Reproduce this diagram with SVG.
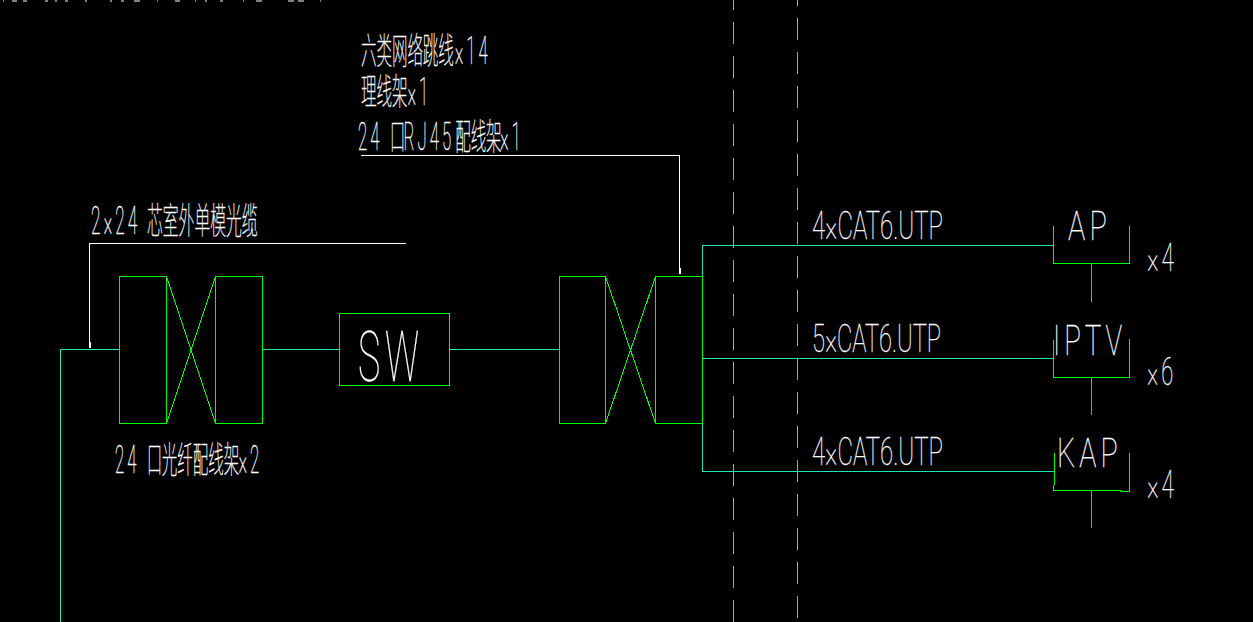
<svg xmlns="http://www.w3.org/2000/svg" width="1253" height="622" viewBox="0 0 1253 622">
<style>
.g{fill:none;stroke:#00ff00;stroke-width:1}
.t{fill:none;stroke:#1be8b6;stroke-width:1}
.w{fill:none;stroke:#fff;stroke-width:1}
.d{fill:none;stroke:#a6a6a6;stroke-width:1;stroke-dasharray:22 12}
text{fill:#fff;stroke:#fff;stroke-width:.3;font-family:Roboto,"Noto Sans CJK SC",sans-serif;font-weight:100;font-size:38px}
.c{font-size:36px;stroke-width:.45}
.n{font-size:39px;letter-spacing:7px}
.m{letter-spacing:5px}
</style>
<rect width="1253" height="622" fill="#000"/>
<path class="w" d="M3 1h1M12 1h5M23 1h4M45 1h3M55 1h2M65 1h3M85 1h2M110 1h2M121 1h3M134 1h6M157 1h1M175 1h5M195 1h1M205 1h2M220 1h3M243 1h1M256 1h6M288 1h6M298 1h6M320 1h1"/>
<g id="guides" shape-rendering="crispEdges">
<path class="d" d="M733.5 -12.3V622"/>
<path class="d" d="M797.5 -15.7V622"/>
</g>
<g id="connectors" shape-rendering="crispEdges">
<path class="t" d="M60.5 622V349.5H119.5M262.5 349.5H339.5M449.5 349.5H559.5"/>
<path class="t" d="M702.5 276V245.5H1053.5M702.5 423V471.5H1054.5"/>
<path class="t" d="M702.5 358.5H1053.5"/>
<path class="w" d="M406 243.5H89.5V346M361 155.5H679.5V273"/>
<path d="M88.5 342h2v6h-1.500zM678.500 268h2v6h-1z" fill="#fff"/>
</g>
<g id="odf-left" shape-rendering="crispEdges">
<rect class="g" x="119.500" y="276.500" width="47" height="147"/>
<rect class="g" x="215.500" y="276.500" width="47" height="147"/>
<path class="g" d="M166.500 276.500L215.500 423.500M166.500 423.500L215.500 276.500"/>
</g>
<text id="odf-label" class="c" transform="translate(115,473) scale(.43,1)"><tspan class="n">24</tspan><tspan x="74">口</tspan><tspan x="109">光纤配线架</tspan><tspan x="287" class="n">×2</tspan></text>
<g id="sw">
<rect class="g" x="339.500" y="313.500" width="110" height="72" shape-rendering="crispEdges"/>
<text x="358" y="381" style="font-size:70px;letter-spacing:9px" textLength="66" lengthAdjust="spacingAndGlyphs">SW</text>
</g>
<g id="patch-right" shape-rendering="crispEdges">
<rect class="g" x="559.500" y="276.500" width="46" height="147"/>
<rect class="g" x="655.500" y="276.500" width="47" height="147"/>
<path class="g" d="M605.500 276.500L655.500 423.500M605.500 423.500L655.500 276.500"/>
</g>
<g id="labels">
<text class="c" transform="translate(91,234) scale(.44,1)"><tspan class="n">2×24</tspan><tspan x="127">芯室外单模光缆</tspan></text>
<text class="c" transform="translate(361,64) scale(.43,1)">六类网络跳线<tspan x="218" class="n">×14</tspan></text>
<text class="c" transform="translate(361,105) scale(.43,1)">理线架<tspan x="108" class="n">×1</tspan></text>
<text class="c" transform="translate(358,150) scale(.43,1)"><tspan class="n">24</tspan><tspan x="74">口</tspan><tspan x="106" class="n">RJ45</tspan><tspan x="226">配线架</tspan><tspan x="330" class="n">×1</tspan></text>
<text x="812" y="239" textLength="131" lengthAdjust="spacingAndGlyphs">4×CAT6.UTP</text>
<text x="812" y="352" textLength="129" lengthAdjust="spacingAndGlyphs">5×CAT6.UTP</text>
<text x="812" y="465" textLength="131" lengthAdjust="spacingAndGlyphs">4×CAT6.UTP</text>
</g>
<g id="ap">
<path class="g" shape-rendering="crispEdges" d="M1053.500 226V263.500H1129.500V226M1091.500 263.500V301.500"/>
<text x="1068" y="240" style="font-size:41px;letter-spacing:6px" textLength="43" lengthAdjust="spacingAndGlyphs">AP</text>
<text class="m" x="1147" y="271" textLength="30" lengthAdjust="spacingAndGlyphs">×4</text>
</g>
<g id="iptv">
<path class="g" shape-rendering="crispEdges" d="M1053.500 340V377.500H1129.500V339M1091.500 377.500V415"/>
<text x="1053" y="355" style="font-size:43px;letter-spacing:6px" textLength="73" lengthAdjust="spacingAndGlyphs">IPTV</text>
<text class="m" x="1147" y="385" textLength="29" lengthAdjust="spacingAndGlyphs">×6</text>
</g>
<g id="kap">
<path class="g" shape-rendering="crispEdges" d="M1054.500 453V485M1053.500 485V490.500H1120V491.500H1129.500V453M1091.500 490.500V528"/>
<text x="1057" y="467" style="font-size:41px;letter-spacing:6px" textLength="65" lengthAdjust="spacingAndGlyphs">KAP</text>
<text class="m" x="1147" y="498" textLength="30" lengthAdjust="spacingAndGlyphs">×4</text>
</g>
</svg>
